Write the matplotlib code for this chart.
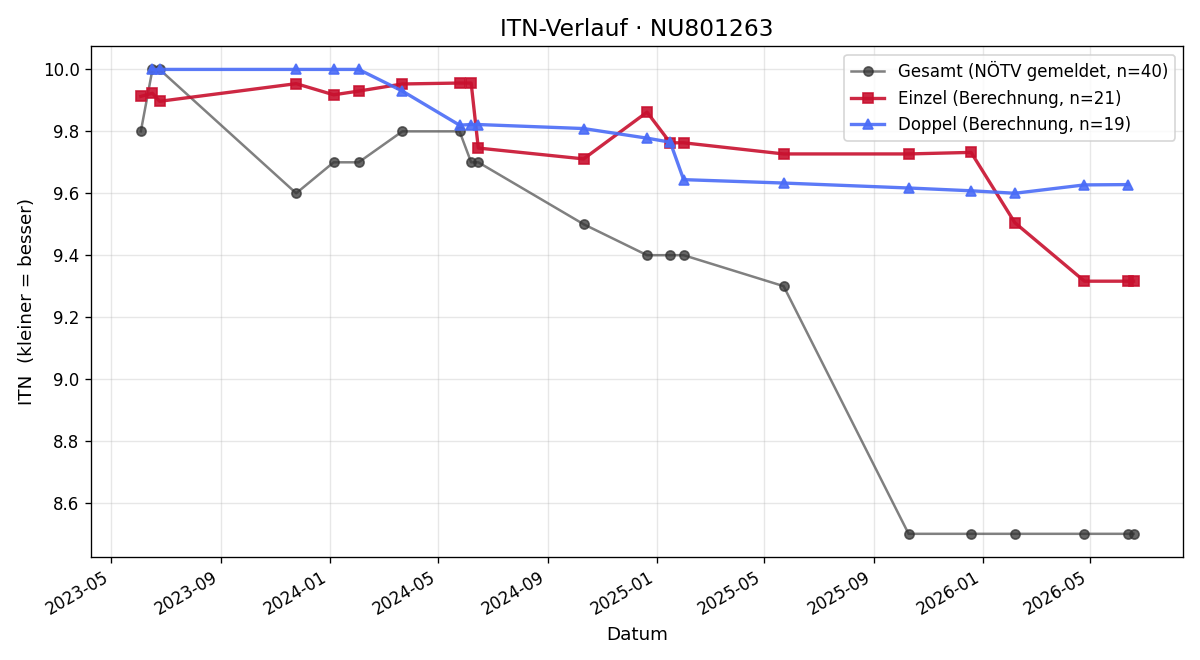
import matplotlib
matplotlib.use('Agg')
import matplotlib.pyplot as plt
import matplotlib.dates as mdates
import pandas as pd

# Gesamt (NÖTV gemeldet)
gesamt_dates = ['2023-06-03', '2023-06-16', '2023-06-24', '2023-11-24', '2024-01-05',
                '2024-02-02', '2024-03-22', '2024-05-25', '2024-06-07', '2024-06-15',
                '2024-10-11', '2024-12-21', '2025-01-16', '2025-01-31', '2025-05-23',
                '2025-10-10', '2025-12-19', '2026-02-06', '2026-04-25', '2026-06-13',
                '2026-06-19']
gesamt_itn = [9.8, 10.0, 10.0, 9.6, 9.7,
              9.7, 9.8, 9.8, 9.7, 9.7,
              9.5, 9.4, 9.4, 9.4, 9.3,
              8.5, 8.5, 8.5, 8.5, 8.5,
              8.5]

# Einzel (Berechnung)
einzel_dates = ['2023-06-03', '2023-06-16', '2023-06-24', '2023-11-24', '2024-01-05',
                '2024-02-02', '2024-03-22', '2024-05-25', '2024-06-07', '2024-06-15',
                '2024-10-11', '2024-12-21', '2025-01-16', '2025-01-31', '2025-05-23',
                '2025-10-10', '2025-12-19', '2026-02-06', '2026-04-25', '2026-06-13',
                '2026-06-19']
einzel_itn = [9.913, 9.923, 9.897, 9.954, 9.918,
              9.930, 9.953, 9.956, 9.956, 9.746,
              9.711, 9.862, 9.763, 9.763, 9.727,
              9.727, 9.732, 9.505, 9.316, 9.316,
              9.316]

# Doppel (Berechnung)
doppel_dates = ['2023-06-16', '2023-06-24', '2023-11-24', '2024-01-05', '2024-02-02',
                '2024-03-22', '2024-05-25', '2024-06-07', '2024-06-15', '2024-10-11',
                '2024-12-21', '2025-01-16', '2025-01-31', '2025-05-23', '2025-10-10',
                '2025-12-19', '2026-02-06', '2026-04-25', '2026-06-13']
doppel_itn = [10.0, 10.0, 10.0, 10.0, 10.0,
              9.930, 9.820, 9.822, 9.822, 9.809,
              9.778, 9.765, 9.644, 9.633, 9.617,
              9.608, 9.600, 9.627, 9.628]

fig, ax = plt.subplots(figsize=(10, 5.5), dpi=120)

ax.plot(pd.to_datetime(gesamt_dates), gesamt_itn, '-o', color='#555555', alpha=0.75,
        lw=1.5, ms=5.5, mfc='#333333', mec='#333333',
        label='Gesamt (NÖTV gemeldet, n=40)')
ax.plot(pd.to_datetime(einzel_dates), einzel_itn, '-s', color='#c8102e', alpha=0.9,
        lw=2, ms=6.5, label='Einzel (Berechnung, n=21)')
ax.plot(pd.to_datetime(doppel_dates), doppel_itn, '-^', color='#4a6cf7', alpha=0.9,
        lw=2, ms=6.5, label='Doppel (Berechnung, n=19)')

ax.set_title('ITN-Verlauf · NU801263', fontsize=14)
ax.set_xlabel('Datum', fontsize=11)
ax.set_ylabel('ITN  (kleiner = besser)', fontsize=11)
ax.grid(True, alpha=0.3)
ax.xaxis.set_major_locator(mdates.MonthLocator(bymonth=[1, 5, 9]))
ax.xaxis.set_major_formatter(mdates.DateFormatter('%Y-%m'))
ax.legend(loc='upper right')
fig.autofmt_xdate()
fig.subplots_adjust(left=0.076, right=0.986, top=0.930, bottom=0.156)
plt.savefig('out.png')
